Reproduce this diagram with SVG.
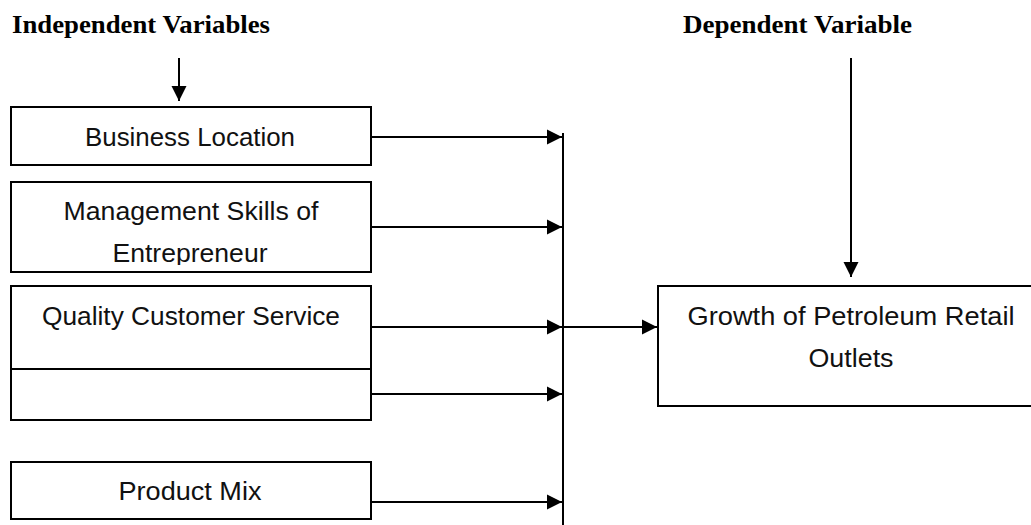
<svg xmlns="http://www.w3.org/2000/svg" width="1031" height="525" viewBox="0 0 1031 525">
  <style>
    .box { fill: #ffffff; stroke: #000000; stroke-width: 2; }
    .lbl { font-family: "Liberation Sans", Arial, sans-serif; font-size: 25px; fill: #111111; text-anchor: middle; }
    .head { font-family: "Liberation Serif", "Times New Roman", serif; font-weight: bold; font-size: 25px; fill: #000000; }
    .wire { fill: none; stroke: #000000; stroke-width: 2; }
  </style>
  <defs>
    <marker id="arrow" markerUnits="userSpaceOnUse" markerWidth="16" markerHeight="16" viewBox="0 0 16 16" refX="15" refY="8" orient="auto">
      <path d="M0,0.5 L15,8 L0,15.5 Z" fill="#000000"/>
    </marker>
    <!-- the second line of this label is cut off by its text frame -->
    <clipPath id="clip-mgmt">
      <rect x="11" y="182" width="360" height="83"/>
    </clipPath>
  </defs>

  <rect width="1031" height="525" fill="#ffffff"/>

  <!-- column headings -->
  <text class="head" x="12" y="33" textLength="258" lengthAdjust="spacingAndGlyphs">Independent Variables</text>
  <text class="head" x="683" y="33" textLength="229" lengthAdjust="spacingAndGlyphs">Dependent Variable</text>

  <g id="business-location">
    <rect class="box" x="11" y="107" width="360" height="58"/>
    <text class="lbl" x="190" y="146" textLength="210" lengthAdjust="spacingAndGlyphs">Business Location</text>
  </g>

  <g id="management-skills">
    <rect class="box" x="11" y="182" width="360" height="90"/>
    <g clip-path="url(#clip-mgmt)">
      <text class="lbl" x="191" y="220" textLength="255" lengthAdjust="spacingAndGlyphs">Management Skills of</text>
      <text class="lbl" x="190" y="262" textLength="155" lengthAdjust="spacingAndGlyphs">Entrepreneur</text>
    </g>
  </g>

  <g id="customer-service">
    <rect class="box" x="11" y="286" width="360" height="83"/>
    <text class="lbl" x="191" y="325" textLength="298" lengthAdjust="spacingAndGlyphs">Quality Customer Service</text>
  </g>

  <g id="blank-factor">
    <rect class="box" x="11" y="369" width="360" height="51"/>
  </g>

  <g id="product-mix">
    <rect class="box" x="11" y="462" width="360" height="57"/>
    <text class="lbl" x="190" y="500" textLength="143" lengthAdjust="spacingAndGlyphs">Product Mix</text>
  </g>

  <g id="petroleum-growth">
    <rect class="box" x="658" y="286" width="380" height="120"/>
    <text class="lbl" x="851" y="325" textLength="327" lengthAdjust="spacingAndGlyphs">Growth of Petroleum Retail</text>
    <text class="lbl" x="851" y="367" textLength="85" lengthAdjust="spacingAndGlyphs">Outlets</text>
  </g>

  <g id="connectors">
    <line class="wire" x1="179" y1="58" x2="179" y2="101" marker-end="url(#arrow)"/>
    <line class="wire" x1="851" y1="58" x2="851" y2="277" marker-end="url(#arrow)"/>
    <line class="wire" x1="371" y1="137" x2="562" y2="137" marker-end="url(#arrow)"/>
    <line class="wire" x1="371" y1="227" x2="562" y2="227" marker-end="url(#arrow)"/>
    <line class="wire" x1="371" y1="327" x2="562" y2="327" marker-end="url(#arrow)"/>
    <line class="wire" x1="371" y1="394" x2="562" y2="394" marker-end="url(#arrow)"/>
    <line class="wire" x1="371" y1="502" x2="562" y2="502" marker-end="url(#arrow)"/>
    <line class="wire" x1="563" y1="133" x2="563" y2="525"/>
    <line class="wire" x1="563" y1="327" x2="657" y2="327" marker-end="url(#arrow)"/>
  </g>
</svg>
